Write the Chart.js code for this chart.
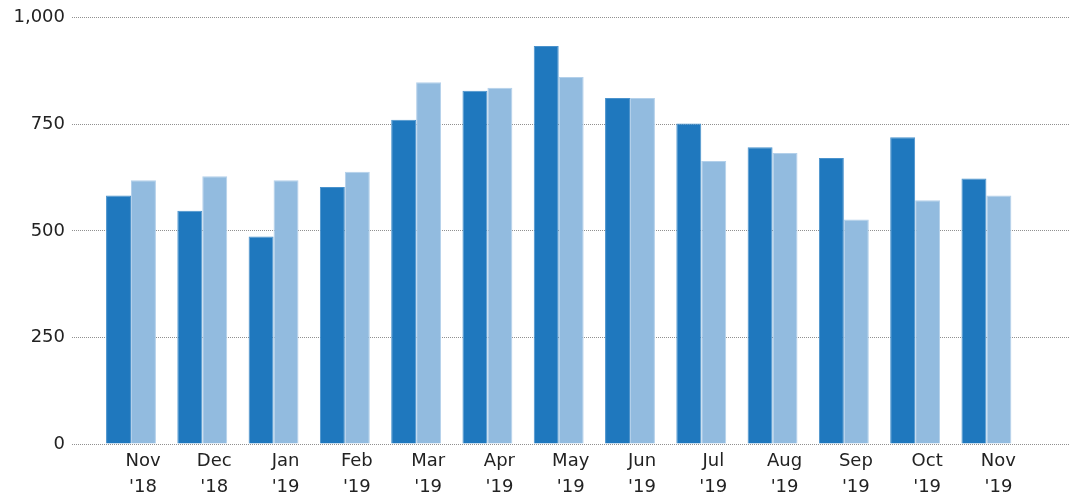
<!DOCTYPE html>
<html>
<head>
<meta charset="utf-8">
<script src="https://cdn.jsdelivr.net/npm/chart.js@4"></script>
<style>
  html, body { margin: 0; padding: 0; background: #fff; }
  #wrap { width: 1078px; height: 500px; }
</style>
</head>
<body>
<div id="wrap"><canvas id="chart" width="1078" height="500"></canvas></div>
<script>
const months = ["Nov", "Dec", "Jan", "Feb", "Mar", "Apr", "May", "Jun", "Jul", "Aug", "Sep", "Oct", "Nov"];
const years = ["'18", "'18", "'19", "'19", "'19", "'19", "'19", "'19", "'19", "'19", "'19", "'19", "'19"];
const seriesDark = [583, 547, 487, 603, 761, 829, 934, 812, 752, 696, 671, 720, 623];
const seriesLight = [619, 628, 619, 639, 849, 836, 861, 812, 664, 683, 527, 572, 583];
const yTicks = [0, 250, 500, 750, 1000];

const font = { family: "'DejaVu Sans', Verdana, sans-serif", size: 18 };

const toPoints = (values) => values.map((y, x) => ({ x, y }));

new Chart(document.getElementById("chart"), {
  type: "bar",
  data: {
    datasets: [
      {
        data: toPoints(seriesDark),
        backgroundColor: "#1f78be",
        borderColor: "#4a92cc",
        borderWidth: 1,
        categoryPercentage: 0.7,
        barPercentage: 1.0,
      },
      {
        data: toPoints(seriesLight),
        backgroundColor: "#92bbdf",
        borderColor: "#b3d0ea",
        borderWidth: 1,
        categoryPercentage: 0.7,
        barPercentage: 1.0,
      },
    ],
  },
  options: {
    responsive: false,
    animation: false,
    devicePixelRatio: 1,
    layout: { padding: { top: 16, right: 8, left: 0, bottom: 0 } },
    plugins: {
      legend: { display: false },
      tooltip: { enabled: false },
    },
    scales: {
      x: {
        type: "linear",
        offset: false,
        min: -0.8275,
        max: 13.1725,
        grid: { display: false },
        border: { display: false },
        afterBuildTicks: (scale) => {
          scale.ticks = months.map((m, i) => ({ value: i }));
        },
        afterFit: (scale) => { scale.height = 56; },
        ticks: {
          font: { ...font, lineHeight: 1.45 },
          color: "#222",
          padding: -4,
          labelOffset: 12,
          maxRotation: 0,
          autoSkip: false,
          callback: (value) => [months[value], years[value]],
        },
      },
      y: {
        min: 0,
        max: 1000,
        afterBuildTicks: (scale) => {
          scale.ticks = yTicks.map((value) => ({ value }));
        },
        afterFit: (scale) => { scale.width = 72; },
        grid: { color: "#909090", drawTicks: false, lineWidth: 1 },
        border: { display: false, dash: [1, 1] },
        ticks: {
          font,
          color: "#222",
          padding: 7,
          callback: (value) => value.toLocaleString("en-US"),
        },
      },
    },
  },
});
</script>
</body>
</html>
